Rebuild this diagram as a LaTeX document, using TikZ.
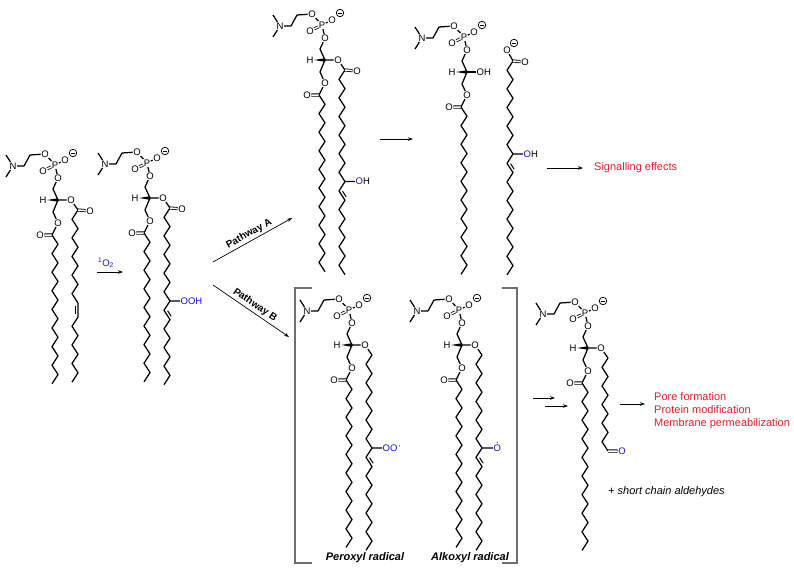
\documentclass[tikz,border=0pt]{standalone}
\usepackage{fontspec}
\setmainfont{Liberation Sans}
\usetikzlibrary{arrows.meta,calc}

\definecolor{oxblue}{RGB}{20,20,205}
\definecolor{effred}{RGB}{225,30,40}
\definecolor{brgray}{RGB}{110,110,110}

\tikzset{
  bond/.style={line width=1.25pt, line join=round},
  dbl/.style={double, double distance=1.5pt, line width=0.8pt},
  atom/.style={font=\fontsize{9.5}{9.5}\selectfont, inner sep=0.5pt},
  charge/.style={circle, draw, line width=0.75pt, inner sep=0pt, minimum size=7.5pt,
    path picture={\draw[line width=0.75pt] ([xshift=1.4pt]path picture bounding box.west) -- ([xshift=-1.4pt]path picture bounding box.east);}},
  rxn/.style={line width=0.7pt, -{Stealth[length=5pt,width=3.5pt]}},
  pathlabel/.style={font=\fontsize{10}{12}\selectfont\bfseries, inner sep=1pt},
  effect/.style={font=\fontsize{11}{13}\selectfont, text=effred, inner sep=0pt, align=left},
  caption/.style={font=\fontsize{11}{13}\selectfont\bfseries\itshape, inner sep=0pt},
  brace/.style={draw=brgray, line width=1.2pt},
}

% head group of the phosphatidylcholine, chiral carbon at (0,0)
\newcommand{\pchead}[1]{%
  \coordinate (#1-c) at (0,0);
  \node[atom] (#1-h) at (-15,0) {H};
  \coordinate (#1-c1) at (-5,-11);
  \node[atom] (#1-o1) at (0,-22) {O};
  \node[atom] (#1-p) at (-3,-35) {P};
  \node[atom] (#1-o2) at (7,-40) {O};
  \node[charge] (#1-q) at (15,-47) {};
  \node[atom] (#1-o3) at (-15,-29) {O};
  \node[atom] (#1-o4) at (-13,-46) {O};
  \coordinate (#1-c2) at (-28,-45);
  \coordinate (#1-c3) at (-34,-34);
  \node[atom] (#1-n) at (-45,-34) {N};
  \coordinate (#1-m1) at (-52,-45);
  \coordinate (#1-m2) at (-52,-23);
  \coordinate (#1-c4) at (-5,12);
  \node[atom] (#1-o5) at (0,23) {O};
  \coordinate (#1-c5) at (-6,35);
  \node[atom] (#1-o6) at (-18,35) {O};
  \draw[bond] (#1-m1) -- (#1-n) -- (#1-m2) (#1-n) -- (#1-c3) -- (#1-c2) -- (#1-o4) -- (#1-p) -- (#1-o2)
    (#1-p) -- (#1-o1) -- (#1-c1) -- (#1-c) -- (#1-c4) -- (#1-o5) -- (#1-c5);
  \draw[dbl] (#1-p) -- (#1-o3) (#1-c5) -- (#1-o6);
  \fill (#1-h.east) -- ([yshift=1.8pt]#1-c) -- ([yshift=-1.8pt]#1-c) -- cycle;
}

% zigzag chain: name, x0, y0, bonds, first step (1 right, -1 left)
\newcommand{\zz}[5]{%
  \foreach \i in {0,...,#4}{\coordinate (#1-\i) at ({#2+6*(#5)*mod(\i,2)},{#3+9.3*\i});}
  \draw[bond] (#1-0) \foreach \i in {1,...,#4}{ -- (#1-\i)};
}

% inner line of a C=C
\newcommand{\dbond}[4]{\draw[line width=1pt] ($(#1)!0.2!(#2)!2.8pt!#3:(#2)$) -- ($(#2)!0.2!(#1)!2.8pt!#4:(#1)$);}

\begin{document}
\begin{tikzpicture}[x=1pt, y=-1pt]
\useasboundingbox (0,0) rectangle (794,571);

% starting lipid
\begin{scope}[shift={(58,200)}]
\pchead{a}
\node[atom] (a-o7) at (13,0) {O};
\node[atom] (a-o8) at (32,11) {O};
\zz{a1}{-6}{35}{16}{1}
\zz{a2}{20}{10}{10}{-1}
\zz{a3}{20}{117}{7}{-1}
\draw[bond] (a-c) -- (a-o7) -- (a2-0) (a2-10) -- (a3-0);
\draw[dbl] (a2-0) -- (a-o8);
\dbond{a2-10}{a3-0}{-90}{90}
\end{scope}

% hydroperoxide
\begin{scope}[shift={(150,198)}]
\pchead{b}
\node[atom] (b-o7) at (13,0) {O};
\node[atom] (b-o8) at (32,11) {O};
\zz{b1}{-6}{35}{16}{1}
\zz{b2}{20}{10}{19}{-1}
\draw[bond] (b-c) -- (b-o7) -- (b2-0);
\draw[dbl] (b2-0) -- (b-o8);
\node[atom, anchor=west, text=oxblue] (b-ooh) at (30,103) {OOH};
\draw[bond] (b2-10) -- (b-ooh);
\dbond{b2-11}{b2-12}{90}{-90}
\end{scope}

% hydroxide
\begin{scope}[shift={(325,60)}]
\pchead{c}
\node[atom] (c-o7) at (13,0) {O};
\node[atom] (c-o8) at (32,11) {O};
\zz{c1}{-6}{35}{19}{1}
\zz{c2}{20}{10}{22}{-1}
\draw[bond] (c-c) -- (c-o7) -- (c2-0);
\draw[dbl] (c2-0) -- (c-o8);
\node[atom, anchor=west] (c-oh) at (30,121.6) {\textcolor{oxblue}{O}H};
\draw[bond] (c2-12) -- (c-oh);
\dbond{c2-13}{c2-14}{90}{-90}
\end{scope}

% lysolipid and free acid
\begin{scope}[shift={(467,72)}]
\pchead{d}
\node[atom, anchor=west] (d-oh) at (9,0) {OH};
\draw[bond] (d-c) -- (d-oh);
\zz{d1}{-6}{35}{18}{1}
\node[atom] (f-om) at (40,-22) {O};
\node[charge] (f-q) at (47,-29) {};
\node[atom] (f-oo) at (58,-10) {O};
\zz{f}{46}{-11}{23}{-1}
\draw[bond] (f-0) -- (f-om);
\draw[dbl] (f-0) -- (f-oo);
\node[atom, anchor=west] (f-oh) at (56,82) {\textcolor{oxblue}{O}H};
\draw[bond] (f-10) -- (f-oh);
\dbond{f-11}{f-12}{90}{-90}
\end{scope}

% peroxyl radical
\begin{scope}[shift={(352,345)}]
\pchead{e}
\node[atom] (e-o7) at (13,0) {O};
\zz{e1}{-6}{35}{18}{1}
\zz{e2}{20}{10}{21}{-1}
\draw[bond] (e-c) -- (e-o7) -- (e2-0);
\node[atom, anchor=west, text=oxblue] (e-oo) at (30,103) {OO};
\fill[oxblue] ([xshift=1.2pt,yshift=-2pt]e-oo.north east) circle (0.6pt);
\draw[bond] (e2-10) -- (e-oo);
\dbond{e2-11}{e2-12}{90}{-90}
\end{scope}

% alkoxyl radical
\begin{scope}[shift={(462,345)}]
\pchead{g}
\node[atom] (g-o7) at (13,0) {O};
\zz{g1}{-6}{35}{18}{1}
\zz{g2}{20}{10}{21}{-1}
\draw[bond] (g-c) -- (g-o7) -- (g2-0);
\node[atom, anchor=west, text=oxblue] (g-o) at (31,103) {O};
\fill[oxblue] ([yshift=1.3pt]g-o.north) circle (0.6pt);
\draw[bond] (g2-10) -- (g-o);
\dbond{g2-11}{g2-12}{90}{-90}
\end{scope}

% aldehyde
\begin{scope}[shift={(588,348)}]
\pchead{k}
\node[atom] (k-o7) at (13,0) {O};
\zz{k1}{-6}{35}{18}{1}
\zz{k2}{20}{10}{10}{-1}
\draw[bond] (k-c) -- (k-o7) -- (k2-0);
\node[atom, text=oxblue] (k-ald) at (34,103) {O};
\draw[dbl] (k2-10) -- (k-ald);
\end{scope}

% brackets
\draw[brace] (312,288) -- (295,288) -- (295,563) -- (312,563);
\draw[brace] (502,288) -- (517,288) -- (517,563) -- (502,563);

% arrows
\coordinate (s1a) at (97,272);
\coordinate (s1b) at (123,272);
\draw[rxn] (s1a) -- (s1b);
\node[atom, text=oxblue] (o2) at (106,263) {\textsuperscript{1}O\textsubscript{2}};
\coordinate (pa1) at (213,262);
\coordinate (pa2) at (292,218);
\draw[rxn] (pa1) -- (pa2) node[midway, sloped, above=1pt, pathlabel] {Pathway A};
\coordinate (pb1) at (213,285);
\coordinate (pb2) at (289,337);
\draw[rxn] (pb1) -- (pb2) node[midway, sloped, above=1pt, pathlabel] {Pathway B};
\coordinate (s2a) at (380,139);
\coordinate (s2b) at (413,139);
\draw[rxn] (s2a) -- (s2b);
\coordinate (s3a) at (547,168);
\coordinate (s3b) at (583,168);
\draw[rxn] (s3a) -- (s3b);
\coordinate (s4a) at (533,398);
\coordinate (s4b) at (555,398);
\draw[rxn] (s4a) -- (s4b);
\coordinate (s5a) at (545,406);
\coordinate (s5b) at (568,406);
\draw[rxn] (s5a) -- (s5b);
\coordinate (s6a) at (620,404);
\coordinate (s6b) at (645,404);
\draw[rxn] (s6a) -- (s6b);

% texts
\node[effect, anchor=west] (sig) at (594,168) {Signalling effects};
\node[effect, anchor=west] (pore) at (654,411) {Pore formation\\Protein modification\\Membrane permeabilization};
\node[font=\fontsize{11}{13}\selectfont\itshape, anchor=west, inner sep=0pt] (ald) at (608,492) {+ short chain aldehydes};
\node[caption] (peroxyl) at (365,558) {Peroxyl radical};
\node[caption] (alkoxyl) at (470,558) {Alkoxyl radical};
\end{tikzpicture}
\end{document}
